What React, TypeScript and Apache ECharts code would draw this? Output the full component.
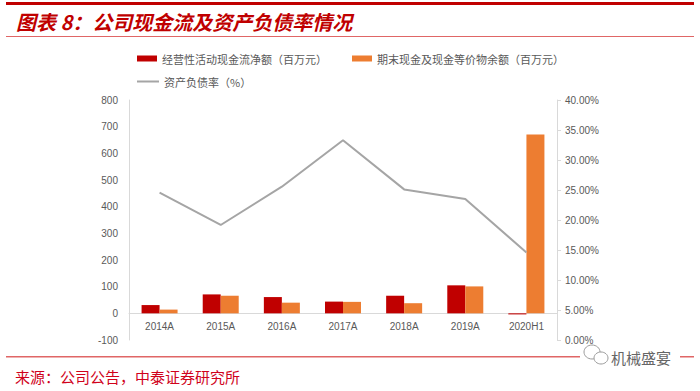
import React, { useEffect, useRef } from "react";
import * as echarts from "echarts";

const categories = ["2014A", "2015A", "2016A", "2017A", "2018A", "2019A", "2020H1"];
const operatingCashFlow = [31, 71, 61, 44, 66, 105, -4];
const endingCash = [14, 66, 40, 43, 38, 101, 671];
const debtRatio = [0.2455, 0.1917, 0.2555, 0.333, 0.251, 0.235, 0.146];
const leftTicks = { min: -100, max: 800, interval: 100 };
const rightTicks = { min: 0, max: 0.4, interval: 0.05 };

const nameCash = "经营性活动现金流净额（百万元）";
const nameEnd = "期末现金及现金等价物余额（百万元）";
const nameRatio = "资产负债率（%）";

export default function App() {
  const ref = useRef<HTMLDivElement>(null);
  useEffect(() => {
    const chart = echarts.init(ref.current!, null, { renderer: "svg" });
    const cjk = '"Noto Sans CJK SC", sans-serif';
    const latin = '"Liberation Sans", "Noto Sans", sans-serif';
    chart.setOption({
      animation: false,
      backgroundColor: "#ffffff",
      grid: { left: 129, right: 143, top: 100, bottom: 51 },
      legend: [
        {
          left: 132,
          top: 48,
          itemWidth: 20,
          itemHeight: 6,
          itemGap: 25,
          textStyle: { color: "#595959", fontSize: 11, fontFamily: cjk },
          data: [
            { name: nameCash, icon: "rect" },
            { name: nameEnd, icon: "rect" },
          ],
        },
        {
          left: 132,
          top: 71,
          itemWidth: 22,
          itemHeight: 2,
          textStyle: { color: "#595959", fontSize: 11, fontFamily: cjk },
          data: [{ name: nameRatio, icon: "rect" }],
        },
      ],
      xAxis: {
        type: "category",
        data: categories,
        axisLine: { onZero: true, onZeroAxisIndex: 0, lineStyle: { color: "#D9D9D9" } },
        axisTick: { show: false },
        axisLabel: { color: "#595959", fontSize: 10, fontFamily: latin, margin: -19 },
      },
      yAxis: [
        {
          type: "value",
          min: leftTicks.min,
          max: leftTicks.max,
          interval: leftTicks.interval,
          splitLine: { show: false },
          axisLine: { show: true, lineStyle: { color: "#D9D9D9" } },
          axisTick: { show: false },
          axisLabel: { color: "#595959", fontSize: 10, fontFamily: latin, margin: 11 },
        },
        {
          type: "value",
          min: rightTicks.min,
          max: rightTicks.max,
          interval: rightTicks.interval,
          splitLine: { show: false },
          axisLine: { show: true, lineStyle: { color: "#D9D9D9" } },
          axisTick: { show: true, length: 4, lineStyle: { color: "#D9D9D9" } },
          axisLabel: {
            color: "#595959",
            fontSize: 10,
            fontFamily: latin,
            margin: 8,
            formatter: (v: number) => (v * 100).toFixed(2) + "%",
          },
        },
      ],
      series: [
        {
          name: nameCash,
          type: "bar",
          data: operatingCashFlow,
          barWidth: 18,
          barGap: "0%",
          itemStyle: { color: "#C00000" },
        },
        {
          name: nameEnd,
          type: "bar",
          data: endingCash,
          barWidth: 18,
          barGap: "0%",
          itemStyle: { color: "#ED7D31" },
        },
        {
          name: nameRatio,
          type: "line",
          yAxisIndex: 1,
          data: debtRatio,
          symbol: "none",
          lineStyle: { color: "#A5A5A5", width: 2 },
          itemStyle: { color: "#A5A5A5" },
        },
      ],
      graphic: [
        { type: "rect", shape: { x: 6, y: 2, width: 688, height: 3 }, style: { fill: "#C00000" } },
        {
          type: "text",
          x: 16,
          y: 21,
          style: {
            text: "图表 8：公司现金流及资产负债率情况",
            fill: "#C00000",
            font: 'italic bold 20px "Noto Sans CJK SC", sans-serif',
            textVerticalAlign: "middle",
          },
        },
        { type: "rect", shape: { x: 6, y: 36, width: 688, height: 1 }, style: { fill: "#E06666" } },
        { type: "rect", shape: { x: 6, y: 356, width: 688, height: 1.5 }, style: { fill: "#E06666" } },
        {
          type: "text",
          x: 15,
          y: 376,
          style: {
            text: "来源：公司公告，中泰证券研究所",
            fill: "#D0021B",
            font: '15px "Noto Sans CJK SC", sans-serif',
            textVerticalAlign: "middle",
          },
        },
        { type: "rect", shape: { x: 580, y: 346, width: 100, height: 20 }, style: { fill: "#ffffff" } },
        { type: "ellipse", shape: { cx: 592, cy: 352, rx: 8, ry: 7 }, style: { fill: "#ffffff", stroke: "#9a9a9a", lineWidth: 1 } },
        { type: "ellipse", shape: { cx: 601, cy: 358, rx: 7, ry: 6 }, style: { fill: "#ffffff", stroke: "#9a9a9a", lineWidth: 1 } },
        {
          type: "text",
          x: 611,
          y: 357,
          style: {
            text: "机械盛宴",
            fill: "#666666",
            font: '15px "Noto Sans CJK SC", sans-serif',
            textVerticalAlign: "middle",
          },
        },
      ],
    });
    return () => chart.dispose();
  }, []);
  return (
    <div
      ref={ref}
      style={{ position: "fixed", left: 0, top: 0, width: 700, height: 391 }}
    />
  );
}
